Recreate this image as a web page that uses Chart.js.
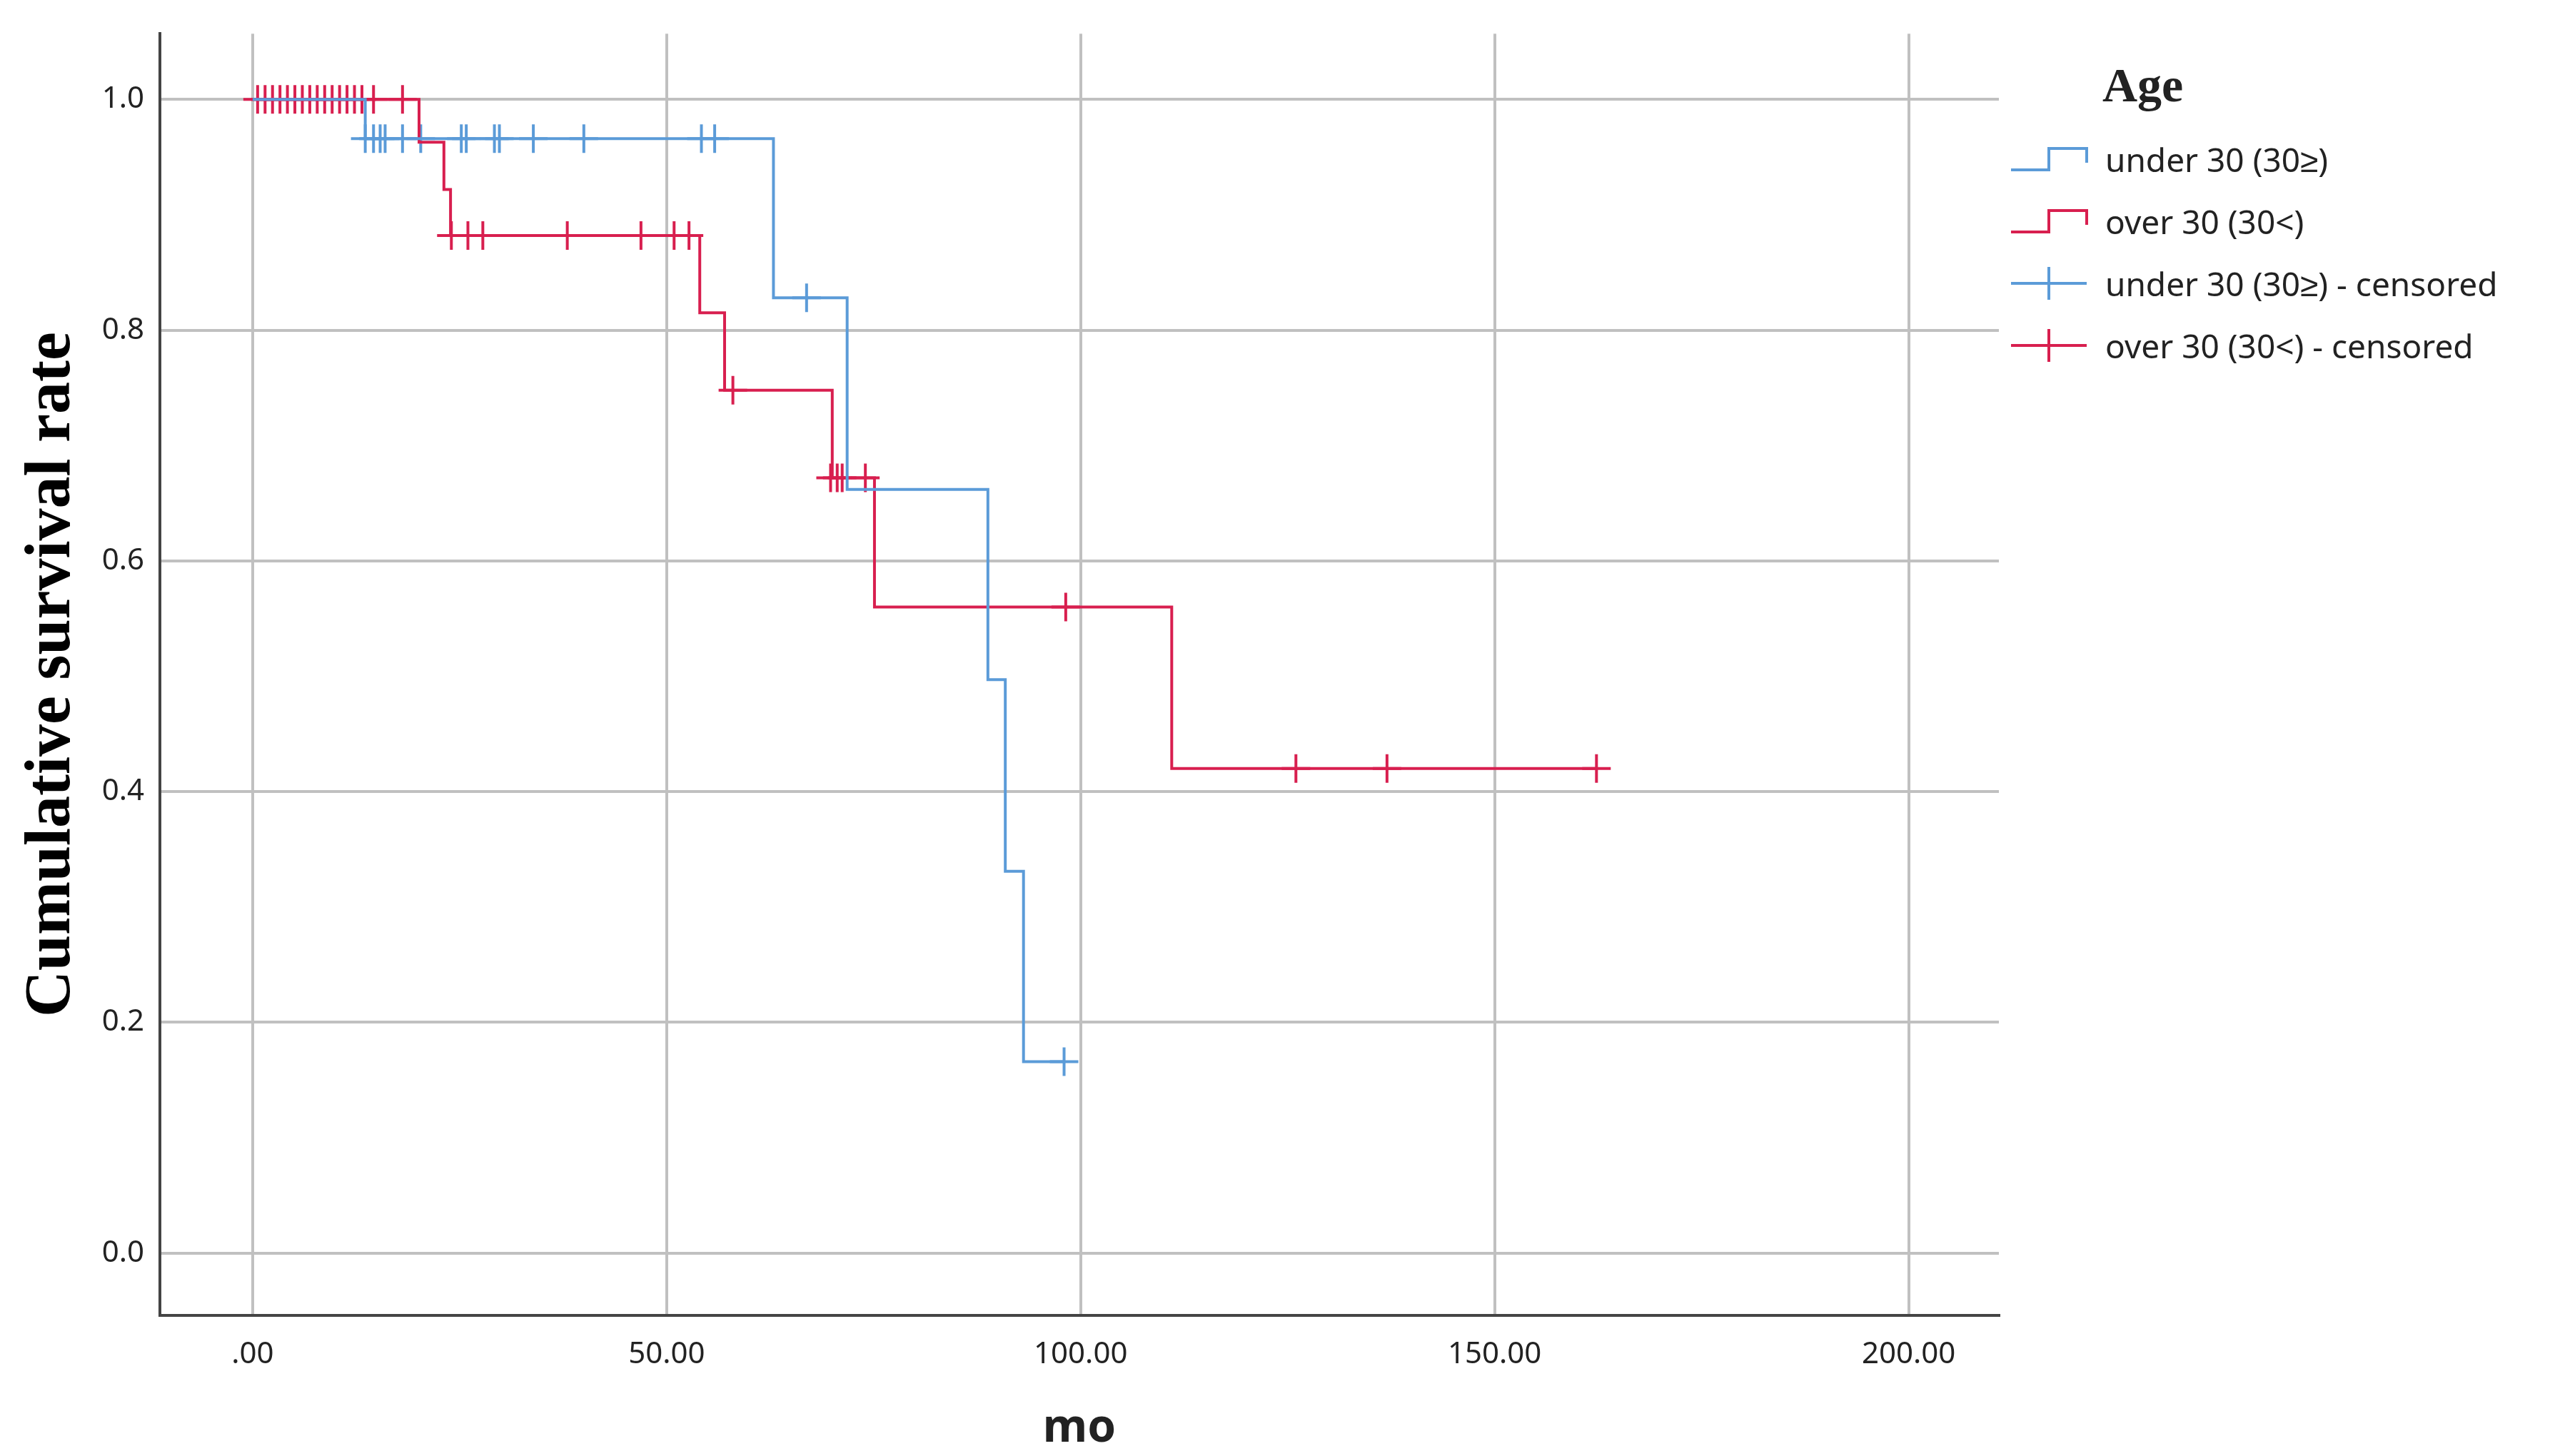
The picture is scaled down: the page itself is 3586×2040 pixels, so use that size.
<!DOCTYPE html>
<html>
<head>
<meta charset="utf-8">
<script src="https://cdn.jsdelivr.net/npm/chart.js@4/dist/chart.umd.min.js"></script>
<style>
  body { margin: 0; background: #fff; }
  #wrap { position: relative; width: 3586px; height: 2040px; }
  #legend { position: absolute; left: 2815px; top: 80px; font-family: "Noto Sans", sans-serif; font-size: 46px; color: #222; }
  #legend .title { font-family: "Liberation Serif", serif; font-weight: bold; font-size: 68px; margin-left: 130px; margin-bottom: 20px; }
  #legend .row { height: 87px; display: flex; align-items: center; }
  #legend .ic { width: 110px; height: 50px; margin-right: 24px; position: relative; }
</style>
</head>
<body>
<div id="wrap">
<canvas id="km" width="3586" height="2040"></canvas>
<div id="legend">
  <div class="title">Age</div>
  <div class="row"><canvas class="ic" id="i0" width="110" height="50"></canvas>under 30 (30≥)</div>
  <div class="row"><canvas class="ic" id="i1" width="110" height="50"></canvas>over 30 (30&lt;)</div>
  <div class="row"><canvas class="ic" id="i2" width="110" height="50"></canvas>under 30 (30≥) - censored</div>
  <div class="row"><canvas class="ic" id="i3" width="110" height="50"></canvas>over 30 (30&lt;) - censored</div>
</div>
</div>
<script>
// === DATOS ===
const blueColor = "#5b9bd8";
const redColor = "#d81f4f";

// curva escalonada: tiempos y supervivencia
const underTimes = [0, 13.6, 62.9, 71.8, 88.8, 90.9, 93.1, 98];
const underSurv = [1.0, 0.966, 0.828, 0.662, 0.497, 0.331, 0.166, 0.166];
const underCensT = [13.6, 14.6, 15.4, 16, 18.1, 20.3, 25.2, 25.8, 29.2, 29.8, 33.9, 40, 54.2, 55.8, 66.9, 98];
const underCensS = [0.966, 0.966, 0.966, 0.966, 0.966, 0.966, 0.966, 0.966, 0.966, 0.966, 0.966, 0.966, 0.966, 0.966, 0.828, 0.166];

const overTimes = [0, 20.1, 23.1, 23.9, 54, 57, 70, 75.1, 111, 162.3];
const overSurv = [1.0, 0.963, 0.922, 0.882, 0.815, 0.748, 0.672, 0.560, 0.420, 0.420];
const overCensT = [0.6, 1.5, 2.4, 3.3, 4.2, 5.1, 6.0, 6.9, 7.8, 8.7, 9.6, 10.5, 11.4, 12.3, 13.2, 14.6, 18.1,
  24, 26, 27.8, 38, 46.9, 50.9, 52.7, 58, 69.8, 70.6, 71.2, 74, 98.2, 126, 137, 162.3];
const overCensS = [1, 1, 1, 1, 1, 1, 1, 1, 1, 1, 1, 1, 1, 1, 1, 1, 1,
  0.882, 0.882, 0.882, 0.882, 0.882, 0.882, 0.882, 0.748, 0.672, 0.672, 0.672, 0.672, 0.560, 0.420, 0.420, 0.420];

const xTicks = [0, 50, 100, 150, 200];
const yTicks = [0, 0.2, 0.4, 0.6, 0.8, 1.0];

function toPts(xs, ys) {
  return xs.map((x, i) => ({ x: x, y: ys[i] }));
}

// === GRÁFICA ===
new Chart(document.getElementById("km"), {
  type: "scatter",
  data: {
    datasets: [
      { type: "line", data: toPts(underTimes, underSurv), stepped: "before", borderColor: blueColor, borderWidth: 4, pointRadius: 0, fill: false },
      { type: "line", data: toPts(overTimes, overSurv), stepped: "before", borderColor: redColor, borderWidth: 4, pointRadius: 0, fill: false },
      { data: toPts(underCensT, underCensS), pointStyle: "cross", pointRadius: 20, borderColor: blueColor, borderWidth: 4 },
      { data: toPts(overCensT, overCensS), pointStyle: "cross", pointRadius: 20, borderColor: redColor, borderWidth: 4 }
    ]
  },
  options: {
    responsive: false,
    animation: false,
    layout: { padding: { top: 41, right: 786, left: 20 } },
    plugins: { legend: { display: false }, tooltip: { enabled: false } },
    scales: {
      x: {
        type: "linear", min: -11.2, max: 210.9,
        afterBuildTicks: (s) => { s.ticks = xTicks.map((v) => ({ value: v })); },
        afterFit: (s) => { s.height = 197; },
        ticks: { callback: (v) => (v === 0 ? ".00" : v.toFixed(2)), font: { size: 42, family: "Noto Sans" }, color: "#222", padding: 30 },
        grid: { color: "#c0c0c0", lineWidth: 4, drawTicks: false },
        border: { color: "#444", width: 4 },
        title: { display: true, text: "mo", font: { size: 64, weight: "bold", family: "Noto Sans" }, color: "#222", padding: { top: -14, bottom: 0 } }
      },
      y: {
        min: -0.054, max: 1.057,
        afterBuildTicks: (s) => { s.ticks = yTicks.map((v) => ({ value: v })); },
        afterFit: (s) => { s.width = 204; },
        ticks: { callback: (v) => v.toFixed(1), font: { size: 42, family: "Noto Sans" }, color: "#222", padding: 22 },
        grid: { color: "#c0c0c0", lineWidth: 4, drawTicks: false },
        border: { color: "#444", width: 4 },
        title: { display: true, text: "Cumulative survival rate", font: { size: 90, weight: "bold", family: "Liberation Serif" }, color: "#000", padding: 0 }
      }
    }
  }
});

// === ICONOS DE LEYENDA ===
function drawStep(id, color) {
  const c = document.getElementById(id).getContext("2d");
  c.strokeStyle = color; c.lineWidth = 4;
  c.beginPath(); c.moveTo(2, 40); c.lineTo(55, 40); c.lineTo(55, 10); c.lineTo(108, 10); c.lineTo(108, 30); c.stroke();
}
function drawCross(id, color) {
  const c = document.getElementById(id).getContext("2d");
  c.strokeStyle = color; c.lineWidth = 4;
  c.beginPath(); c.moveTo(2, 25); c.lineTo(108, 25); c.moveTo(55, 2); c.lineTo(55, 48); c.stroke();
}
drawStep("i0", blueColor);
drawStep("i1", redColor);
drawCross("i2", blueColor);
drawCross("i3", redColor);
</script>
</body>
</html>
